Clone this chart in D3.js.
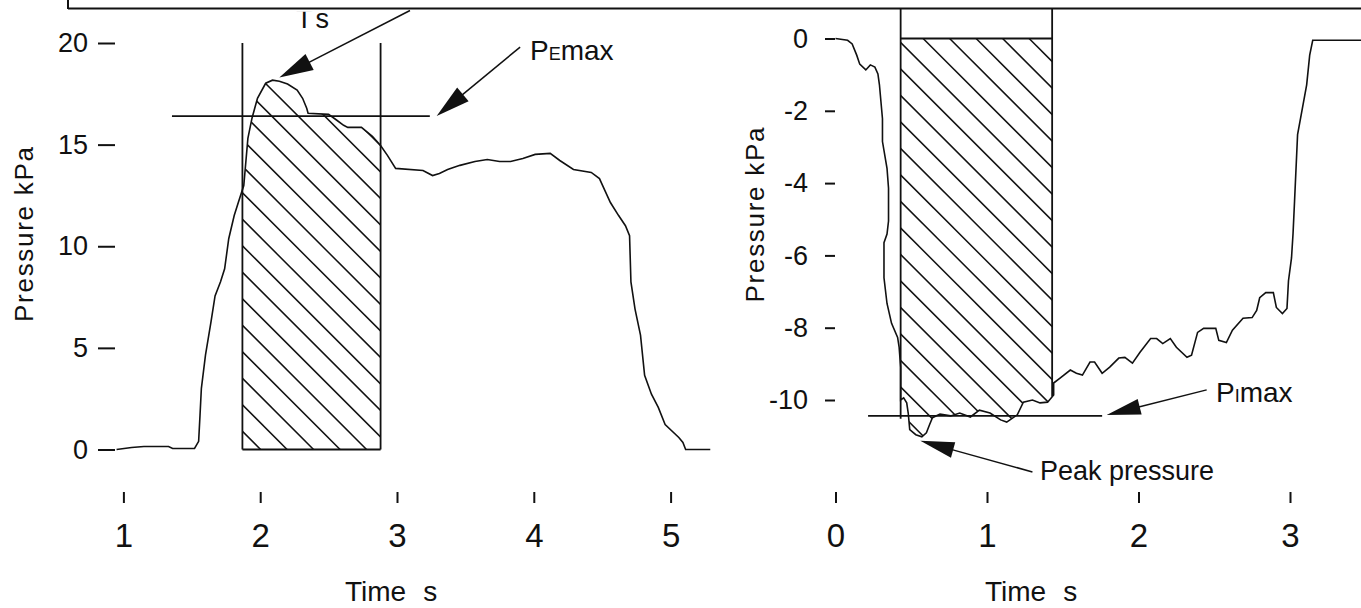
<!DOCTYPE html>
<html><head><meta charset="utf-8">
<script src="https://cdn.jsdelivr.net/npm/d3@7"></script>
<style>
html,body{margin:0;padding:0;background:#fff;}
svg{display:block;}
text{font-family:"Liberation Sans", Arial, sans-serif; fill:#111;}
</style></head><body>
<svg id="chart" width="1361" height="608"></svg>
<script>
// Expiratory manoeuvre: pressure (kPa) against time (s)
const expTime = [0.95,1.06,1.15,1.33,1.36,1.52,1.55,1.56,1.57,1.60,1.64,1.67,1.71,1.74,1.77,1.81,1.84,1.88,1.91,1.94,1.98,2.04,2.09,2.14,2.20,2.27,2.31,2.34,2.35,2.50,2.56,2.61,2.64,2.74,2.82,2.88,2.93,2.99,3.19,3.26,3.31,3.37,3.46,3.57,3.66,3.75,3.83,3.92,4.01,4.12,4.19,4.29,4.42,4.48,4.52,4.56,4.62,4.67,4.70,4.71,4.74,4.78,4.81,4.86,4.91,4.96,5.06,5.09,5.11,5.29];
const expPressure = [0,0.10,0.15,0.15,0.05,0.05,0.40,1.68,3.01,4.64,6.27,7.56,8.25,8.89,10.37,11.51,12.15,12.99,15.31,16.30,17.28,18.02,18.17,18.12,17.98,17.68,17.28,16.79,16.54,16.49,16.20,15.95,15.85,15.85,15.41,14.96,14.47,13.83,13.73,13.48,13.58,13.78,13.98,14.17,14.27,14.17,14.17,14.32,14.52,14.57,14.22,13.78,13.63,13.33,12.74,12.15,11.51,11.01,10.52,8.25,6.91,5.63,3.65,2.72,2.07,1.23,0.59,0.35,0,0];

// Inspiratory manoeuvre: pressure (kPa) against time (s)
const inspTime = [0,0.08,0.11,0.14,0.16,0.20,0.23,0.26,0.28,0.29,0.31,0.31,0.34,0.35,0.35,0.35,0.34,0.32,0.32,0.34,0.37,0.41,0.42,0.43,0.43,0.45,0.47,0.48,0.49,0.53,0.57,0.60,0.62,0.64,0.69,0.76,0.82,0.89,0.95,1.02,1.09,1.13,1.20,1.24,1.30,1.35,1.40,1.44,1.44,1.48,1.55,1.59,1.63,1.68,1.71,1.76,1.81,1.87,1.91,1.96,2.01,2.08,2.12,2.16,2.21,2.25,2.32,2.35,2.39,2.43,2.51,2.53,2.58,2.62,2.69,2.75,2.78,2.80,2.84,2.89,2.91,2.95,2.98,2.99,3.01,3.02,3.03,3.05,3.11,3.13,3.15,3.47];
const inspPressure = [0,-0.05,-0.15,-0.46,-0.71,-0.87,-0.73,-0.79,-0.98,-1.28,-2.22,-2.85,-3.59,-4.14,-4.50,-5.05,-5.41,-5.65,-6.62,-7.33,-7.88,-8.27,-8.54,-9.09,-10.00,-9.94,-10.08,-10.36,-10.82,-10.96,-11.02,-10.91,-10.69,-10.49,-10.39,-10.44,-10.36,-10.47,-10.28,-10.36,-10.55,-10.61,-10.41,-10.06,-10.00,-10.08,-10.06,-9.86,-9.53,-9.40,-9.17,-9.26,-9.31,-8.95,-8.95,-9.26,-9.09,-8.84,-8.82,-8.98,-8.68,-8.30,-8.30,-8.44,-8.30,-8.54,-8.82,-8.76,-8.13,-8.02,-8.02,-8.35,-8.41,-8.07,-7.74,-7.72,-7.52,-7.17,-7.03,-7.03,-7.44,-7.61,-7.47,-6.70,-6.07,-5.40,-4.50,-2.66,-1.28,-0.46,-0.05,-0.05];

const expTicksX = [1,2,3,4,5];
const expTicksY = [0,5,10,15,20];
const inspTicksX = [0,1,2,3];
const inspTicksY = [0,-2,-4,-6,-8,-10];

// One-second averaging windows and the sustained maxima
const expWindow = [1.87, 2.88];
const inspWindow = [0.43, 1.43];
const pEmax = 16.4;
const pImax = -10.44;

const svg = d3.select("#chart");
const FONT = '"Liberation Sans", Arial, sans-serif';

const xE = d3.scaleLinear().domain([1,5]).range([123.4, 670.6]);
const yE = d3.scaleLinear().domain([0,20]).range([449.5, 43]);
const xI = d3.scaleLinear().domain([0,3]).range([835.5, 1290]);
const yI = d3.scaleLinear().domain([0,-10]).range([38.5, 400]);

const defs = svg.append("defs");

// caption frame along the top
svg.append("line").attr("x1",68).attr("x2",1361).attr("y1",8.5).attr("y2",8.5)
  .attr("stroke","#111").attr("stroke-width",2);
svg.append("line").attr("x1",68).attr("x2",68).attr("y1",0).attr("y2",9)
  .attr("stroke","#111").attr("stroke-width",2);

function axes(x, y, ticksX, ticksY, xAxisAt, yAxisAt, tickLen, pad) {
  const gy = svg.append("g").attr("transform",`translate(${yAxisAt},0)`)
    .call(d3.axisLeft(y).tickValues(ticksY).tickSize(tickLen).tickPadding(pad).tickFormat(d => String(d)));
  gy.select(".domain").remove();
  gy.attr("font-size",27).attr("font-family",FONT).attr("color","#111");
  gy.selectAll("line").attr("stroke-width",2);
  const gx = svg.append("g").attr("transform",`translate(0,${xAxisAt})`)
    .call(d3.axisBottom(x).tickValues(ticksX).tickSize(11).tickPadding(21).tickFormat(d => String(d)));
  gx.select(".domain").remove();
  gx.attr("font-size",33).attr("font-family",FONT).attr("color","#111");
  gx.selectAll("line").attr("stroke-width",2);
}
axes(xE, yE, expTicksX, expTicksY, 492, 115, 17, 10);
axes(xI, yI, inspTicksX, inspTicksY, 492, 835, 10, 17);

// hatched area between the trace and zero inside a window
function hatch(id, x, y, time, pres, win, ext) {
  const pts = time.map((t,i) => [t, pres[i]]);
  defs.append("clipPath").attr("id", id + "-win").append("rect")
    .attr("x", x(win[0])).attr("width", x(win[1]) - x(win[0]))
    .attr("y", 0).attr("height", 608);
  defs.append("clipPath").attr("id", id + "-area").append("path")
    .attr("d", d3.area().x(d => x(d[0])).y0(y(0)).y1(d => y(d[1]))(pts));
  const g = svg.append("g").attr("clip-path", `url(#${id}-win)`)
    .append("g").attr("clip-path", `url(#${id}-area)`);
  const x0 = x(win[0]), x1 = x(win[1]);
  const yTop = Math.min(y(ext[0]), y(ext[1])), yBot = Math.max(y(ext[0]), y(ext[1]));
  const cs = d3.range(yTop - x1 - 30, yBot - x0 + 30, 26.5);
  g.selectAll("line").data(cs).join("line")
    .attr("x1", x0 - 5).attr("y1", c => x0 - 5 + c)
    .attr("x2", x1 + 5).attr("y2", c => x1 + 5 + c)
    .attr("stroke", "#111").attr("stroke-width", 1.5);
}
hatch("hE", xE, yE, expTime, expPressure, expWindow, [0, 20]);
hatch("hI", xI, yI, inspTime, inspPressure, inspWindow, [0, -11.5]);

// window outlines
function vline(x, y, t, p0, p1) {
  svg.append("line").attr("x1", x(t)).attr("x2", x(t)).attr("y1", y(p0)).attr("y2", y(p1))
    .attr("stroke","#111").attr("stroke-width",1.8);
}
function hline(x, y, t0, t1, p, w) {
  svg.append("line").attr("x1", x(t0)).attr("x2", x(t1)).attr("y1", y(p)).attr("y2", y(p))
    .attr("stroke","#111").attr("stroke-width", w || 1.8);
}
vline(xE, yE, expWindow[0], 20, 0);
vline(xE, yE, expWindow[1], 20, 0);
hline(xE, yE, expWindow[0], expWindow[1], 0);
vline(xI, yI, inspWindow[0], 0.83, -10.52);
vline(xI, yI, inspWindow[1], 0.83, -9.9);
hline(xI, yI, inspWindow[0], inspWindow[1], 0);

// PEmax / PImax levels
hline(xE, yE, 1.355, 3.24, pEmax, 1.8);
hline(xI, yI, 0.215, 1.76, pImax, 1.8);

// traces
const line = (x, y) => d3.line().x(d => x(d[0])).y(d => y(d[1]));
svg.append("path").datum(expTime.map((t,i) => [t, expPressure[i]]))
  .attr("d", line(xE, yE)).attr("fill","none").attr("stroke","#111").attr("stroke-width",1.6);
svg.append("path").datum(inspTime.map((t,i) => [t, inspPressure[i]]))
  .attr("d", line(xI, yI)).attr("fill","none").attr("stroke","#111").attr("stroke-width",1.6);

// arrows
function arrow(x, y, from, to, len, half) {
  const ax = x(from[0]), ay = y(from[1]), bx = x(to[0]), by = y(to[1]);
  const dx = bx - ax, dy = by - ay, L = Math.hypot(dx, dy);
  const ux = dx / L, uy = dy / L;
  const cx = bx - ux * len, cy = by - uy * len;
  svg.append("line").attr("x1", ax).attr("y1", ay).attr("x2", cx + ux*4).attr("y2", cy + uy*4)
    .attr("stroke","#111").attr("stroke-width",1.5);
  svg.append("path").attr("d", `M${bx},${by}L${cx - uy*half},${cy + ux*half}L${cx + uy*half},${cy - ux*half}Z`)
    .attr("fill","#111");
}
arrow(xE, yE, [3.095, 21.6], [2.14, 18.3], 34, 9);
arrow(xE, yE, [3.90, 19.8], [3.29, 16.41], 34, 9);
arrow(xI, yI, [2.45, -9.72], [1.79, -10.415], 34, 8);
arrow(xI, yI, [1.30, -11.99], [0.56, -11.13], 34, 8);

// labels
defs.append("clipPath").attr("id","below-frame").append("rect")
  .attr("x",0).attr("y",11.8).attr("width",1361).attr("height",600);
const ts = svg.append("text").attr("clip-path","url(#below-frame)")
  .attr("x",296).attr("y",28).attr("font-size",27);
ts.append("tspan").text("T");
ts.append("tspan").attr("dx",6).text("s");

function subLabel(x0, yb, sub) {
  const t = svg.append("text").attr("x", x0).attr("y", yb).attr("font-size", 28);
  t.append("tspan").text("P");
  t.append("tspan").attr("font-size", 18).text(sub);
  t.append("tspan").text("max");
}
subLabel(530, 60, "E");
subLabel(1216, 402, "I");

svg.append("text").attr("x",1040).attr("y",480).attr("font-size",27).text("Peak pressure");

function timeTitle(x0) {
  const t = svg.append("text").attr("x", x0).attr("y", 601).attr("font-size", 28);
  t.append("tspan").text("Time");
  t.append("tspan").attr("dx", 17).text("s");
}
timeTitle(345);
timeTitle(985);

function yTitle(xb, yc) {
  svg.append("text").attr("transform", `translate(${xb},${yc}) rotate(-90)`)
    .attr("text-anchor","middle").attr("font-size",26)
    .attr("textLength",175).attr("lengthAdjust","spacing").text("Pressure kPa");
}
yTitle(33, 234.5);
yTitle(764, 215);
</script>
</body></html>
